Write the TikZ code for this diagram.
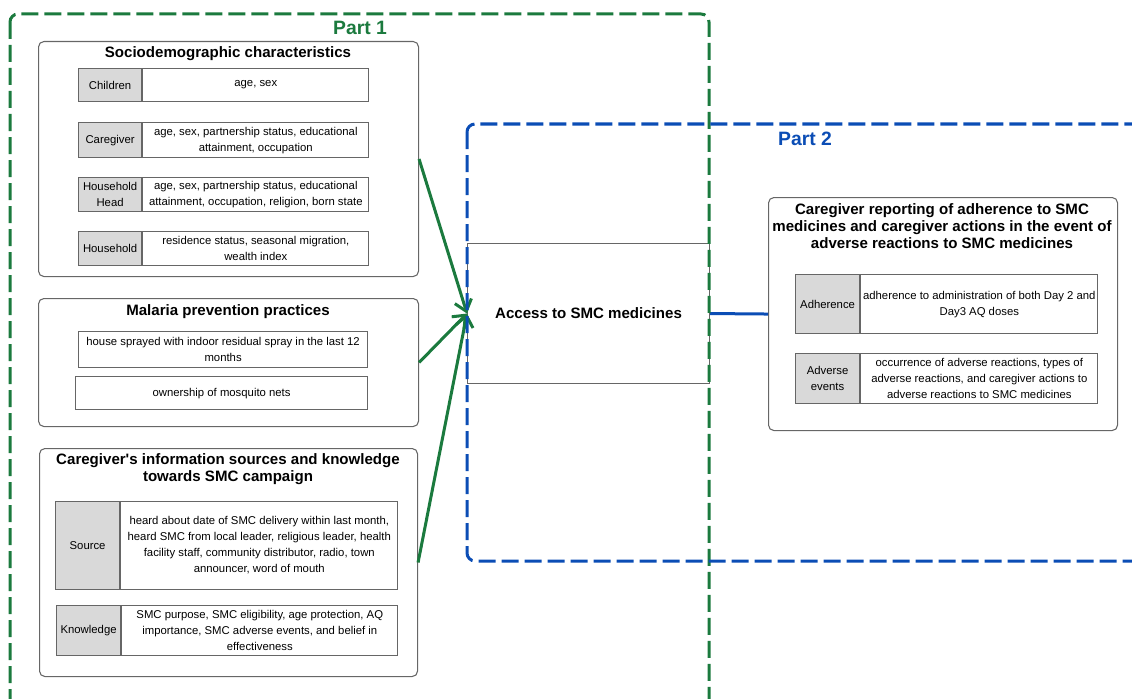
\documentclass[tikz,border=0pt]{standalone}
\usepackage{fontspec}
\setmainfont{Liberation Sans}
\usetikzlibrary{arrows.meta}

\definecolor{partgreen}{HTML}{1B7A3E}
\definecolor{partblue}{HTML}{0B4DB5}
\definecolor{cellgray}{HTML}{D9D9D9}
\definecolor{linegray}{HTML}{666666}

\newcommand{\bodyfont}{\fontsize{8.5}{12}\selectfont}
\newcommand{\headfont}{\bfseries\fontsize{11.3}{12.75}\selectfont}

\tikzset{
  sized/.style 2 args={minimum width=#1*0.75pt, minimum height=#2*0.75pt},
  group/.style={draw=linegray, line width=0.8pt, rounded corners=4pt, anchor=north west, inner sep=0pt},
  heading/.style={font=\headfont, align=center, anchor=north, inner sep=0pt},
  keycell/.style={draw=linegray, line width=0.9pt, fill=cellgray, anchor=north west, inner sep=0pt, align=center, font=\bodyfont},
  infocell/.style={draw=linegray, line width=0.9pt, fill=white, anchor=north west, inner sep=0pt, align=center, font=\bodyfont},
  partline/.style={line width=2.25pt, dash pattern=on 12.75pt off 4.5pt, rounded corners=6pt},
  partlabel/.style={font=\bfseries\fontsize{14.5}{16}\selectfont},
  link/.style={line width=2.25pt, draw=partgreen, -{Straight Barb[length=8pt,width=13pt]}},
}

\begin{document}
\begin{tikzpicture}[x=0.75pt, y=-0.75pt]
\useasboundingbox (0,0) rectangle (1132,699);

\node[group, sized={380}{235}] (socio) at (38,41) {};
\node[heading] (sociotitle) at (228,46) {Sociodemographic characteristics};
\node[keycell, sized={63}{33}] (children) at (78,68) {Children};
\node[infocell, sized={226}{33}, anchor=north west] (childrenval) at (children.north east) {age, sex};
\node[keycell, sized={63}{35}] (caregiver) at (78,122) {Caregiver};
\node[infocell, sized={226}{35}] (caregiverval) at (caregiver.north east) {age, sex, partnership status, educational\\attainment, occupation};
\node[keycell, sized={63}{34}] (hhhead) at (78,177) {Household\\Head};
\node[infocell, sized={226}{34}] (hhheadval) at (hhhead.north east) {age, sex, partnership status, educational\\attainment, occupation, religion, born state};
\node[keycell, sized={63}{34}] (household) at (78,231) {Household};
\node[infocell, sized={226}{34}] (householdval) at (household.north east) {residence status, seasonal migration,\\wealth index};

\node[group, sized={380}{128}] (malaria) at (38,298) {};
\node[heading] (malariatitle) at (228,304) {Malaria prevention practices};
\node[infocell, sized={289}{36}] (spray) at (78,331) {house sprayed with indoor residual spray in the last 12\\months};
\node[infocell, sized={292}{33}] (nets) at (75,376) {ownership of mosquito nets};

\node[group, sized={378}{228}] (info) at (39,448) {};
\node[heading] (infotitle) at (228,453) {Caregiver\textquotesingle s information sources and knowledge\\towards SMC campaign};
\node[keycell, sized={64}{88}] (source) at (55,501) {Source};
\node[infocell, sized={277}{88}] (sourceval) at (source.north east) {heard about date of SMC delivery within last month,\\heard SMC from local leader, religious leader, health\\facility staff, community distributor, radio, town\\announcer, word of mouth};
\node[keycell, sized={64}{50}] (knowledge) at (56,605) {Knowledge};
\node[infocell, sized={276}{50}] (knowledgeval) at (knowledge.north east) {SMC purpose, SMC eligibility, age protection, AQ\\importance, SMC adverse events, and belief in\\effectiveness};

\node[draw=linegray, line width=0.8pt, anchor=north west, sized={242}{140}, font=\headfont] (access) at (467,243) {Access to SMC medicines};

\node[group, sized={349}{233}] (report) at (768,197) {};
\node[heading] (reporttitle) at (942,203) {Caregiver reporting of adherence to SMC\\medicines and caregiver actions in the event of\\adverse reactions to SMC medicines};
\node[keycell, sized={64}{59}] (adherence) at (795,274) {Adherence};
\node[infocell, sized={237}{59}] (adherenceval) at (adherence.north east) {adherence to administration of both Day 2 and\\Day3 AQ doses};
\node[keycell, sized={64}{50}] (adverse) at (795,353) {Adverse\\events};
\node[infocell, sized={237}{50}] (adverseval) at (adverse.north east) {occurrence of adverse reactions, types of\\adverse reactions, and caregiver actions to\\adverse reactions to SMC medicines};

\draw[link] (socio.east) -- (access.west);
\draw[link] (malaria.east) -- (access.west);
\draw[link] (info.east) -- (access.west);
\draw[partblue, line width=2.25pt] (access.east) -- (report.west);

\begin{scope}
\clip (0,0) rectangle (1132,699);
\draw[partline, partgreen] (10,14) rectangle (709,730);
\draw[partline, partblue] (467,124) rectangle (1170,561);
\end{scope}
\node[partlabel, text=partgreen] (part1) at (360,28) {Part 1};
\node[partlabel, text=partblue] (part2) at (805,139) {Part 2};
\end{tikzpicture}
\end{document}
